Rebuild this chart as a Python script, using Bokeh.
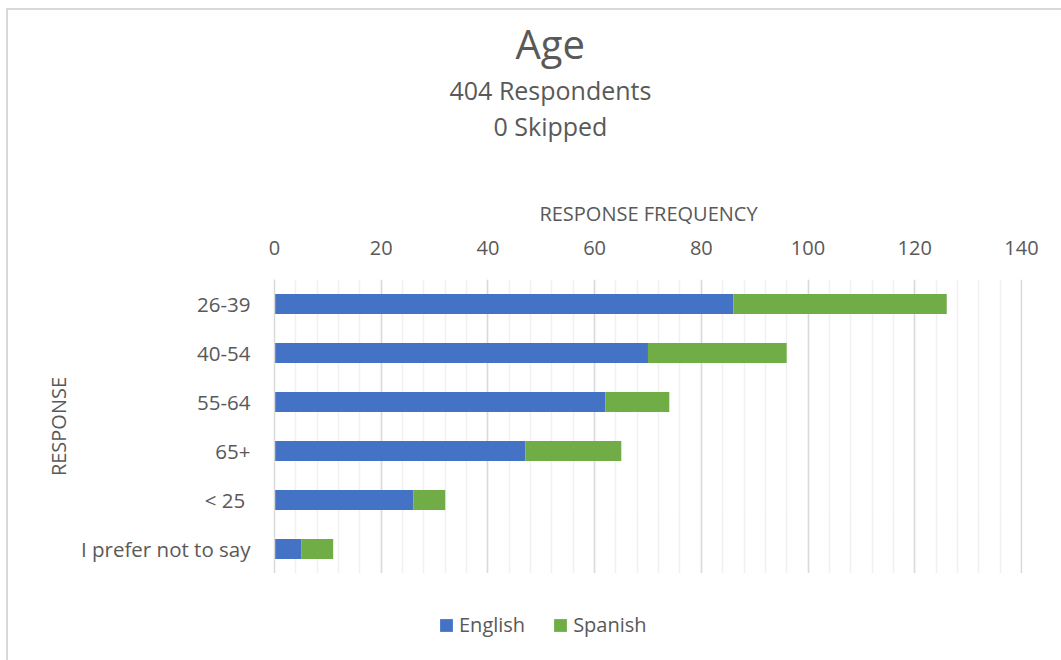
from bokeh.plotting import figure
from bokeh.layouts import column
from bokeh.models import FactorRange, Range1d, SingleIntervalTicker, Legend, Title
from bokeh.embed import file_html
from bokeh.resources import INLINE

# ---- data ----
categories = ["26-39", "40-54", "55-64", "65+", "< 25 ", "I prefer not to say"]
english = [86, 70, 62, 47, 26, 5]
spanish = [40, 26, 12, 18, 6, 6]
series = ["English", "Spanish"]
colors = ["#4472C4", "#70AD47"]
title_text = "Age"
subtitle_lines = ["404 Respondents", "0 Skipped"]
x_label = "RESPONSE FREQUENCY"
y_label = "RESPONSE"

FONT = "Open Sans"
TXT = "#595959"

W, H_MAIN, H_LEG = 1053, 563, 87
p = figure(width=W, height=H_MAIN, output_backend="svg", toolbar_location=None,
           y_range=FactorRange(factors=list(reversed(categories)), range_padding=0),
           x_range=Range1d(0, 140.2), x_axis_location="above",
           min_border_left=266, min_border_right=39, min_border_top=269, min_border_bottom=0)

data = {"cat": categories, "English": english, "Spanish": spanish}
rs = p.hbar_stack(series, y="cat", height=0.41, color=colors, source=data, line_color=None)

p.outline_line_color = None
p.background_fill_color = "white"
p.border_fill_color = "white"

# x axis
xa = p.xaxis[0]
xa.ticker = SingleIntervalTicker(interval=20, num_minor_ticks=5)
xa.axis_line_color = None
xa.major_tick_line_color = None
xa.minor_tick_line_color = None
xa.major_label_text_font = FONT
xa.major_label_text_font_size = "20px"
xa.major_label_text_color = TXT
xa.major_label_standoff = 19
xa.axis_label = x_label
xa.axis_label_text_font = FONT
xa.axis_label_text_font_style = "normal"
xa.axis_label_text_font_size = "20px"
xa.axis_label_text_color = TXT
xa.axis_label_standoff = 11

p.xgrid.grid_line_color = "#d9d9d9"
p.xgrid.grid_line_width = 1.5
p.xgrid.minor_grid_line_color = "#f0f0f0"
p.xgrid.minor_grid_line_width = 1.5
p.ygrid.grid_line_color = None

# y axis
ya = p.yaxis[0]
ya.axis_line_color = "#d9d9d9"
ya.axis_line_width = 1.5
ya.major_tick_line_color = None
ya.minor_tick_line_color = None
ya.major_label_text_font = FONT
ya.major_label_text_font_size = "20.5px"
ya.major_label_text_color = TXT
ya.major_label_standoff = 18
ya.axis_label = y_label
ya.axis_label_text_font = FONT
ya.axis_label_text_font_style = "normal"
ya.axis_label_text_font_size = "20px"
ya.axis_label_text_color = TXT
ya.axis_label_standoff = 6

# titles, stacked outward from the axis (first one is an empty spacer)
p.add_layout(Title(text=" ", standoff=51, text_font_size="1px"), "above")
p.add_layout(Title(text=subtitle_lines[1], align="left", offset=219, standoff=0,
                   text_font=FONT, text_font_size="25px", text_font_style="normal",
                   text_color=TXT), "above")
p.add_layout(Title(text=subtitle_lines[0], align="left", offset=175, standoff=0,
                   text_font=FONT, text_font_size="25px", text_font_style="normal",
                   text_color=TXT), "above")
p.add_layout(Title(text=title_text, align="left", offset=241, standoff=0,
                   text_font=FONT, text_font_size="40px", text_font_style="normal",
                   text_color=TXT), "above")

# legend strip (separate figure below the chart; zero-width swatch renderers)
lp = figure(width=W, height=H_LEG, output_backend="svg", toolbar_location=None,
            x_axis_type=None, y_axis_type=None, min_border=0,
            x_range=Range1d(0, 1), y_range=Range1d(0, 1))
lp.outline_line_color = None
lp.grid.grid_line_color = None
lp.border_fill_color = "white"
swatches = [lp.hbar(y=[0.5], left=[0], right=[0], height=0.5, color=c, line_color=None)
            for c in colors]
legend = Legend(items=[(s, [r]) for s, r in zip(series, swatches)], orientation="horizontal",
                location=(164, 22), glyph_width=16, glyph_height=16, label_standoff=5,
                spacing=27, padding=0, margin=0, border_line_color=None,
                background_fill_alpha=0, label_text_font=FONT, label_text_font_size="20px",
                label_text_color=TXT, label_text_baseline="middle")
lp.add_layout(legend, "center")

layout = column(p, lp, spacing=0)
layout.styles = {"border-top": "2px solid #d9d9d9", "border-left": "2px solid #d9d9d9",
                 "margin-left": "6px", "margin-top": "8px"}

open("out.html", "w").write(file_html(layout, INLINE))
